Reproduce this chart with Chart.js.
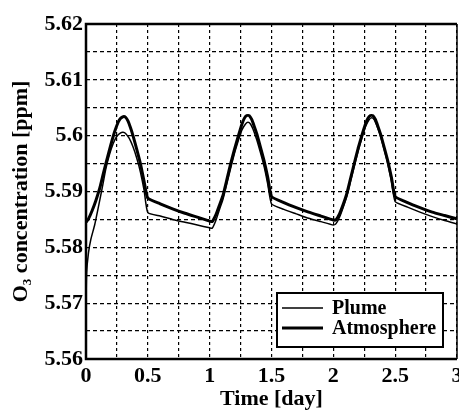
<!DOCTYPE html>
<html>
<head>
<meta charset="utf-8">
<script src="https://cdn.jsdelivr.net/npm/chart.js@4.4.1/dist/chart.umd.min.js"></script>
<style>
html,body{margin:0;padding:0;background:#fff;overflow:hidden;}
#wrap{position:relative;width:459px;height:416px;}
</style>
</head>
<body>
<div id="wrap"><canvas id="c"></canvas></div>
<script>
// ---- data ----
const seriesLabels = ['Plume', 'Atmosphere'];
const xTickLabels = ['0', '0.5', '1', '1.5', '2', '2.5', '3'];
const yTickLabels = ['5.56', '5.57', '5.58', '5.59', '5.6', '5.61', '5.62'];
const xTitle = 'Time [day]';
const yTitle = 'O\u2083 concentration [ppm]';

const plumeTime = [
  0.000, 0.005, 0.020, 0.040, 0.070, 0.100, 0.130, 0.160, 0.190, 0.220, 0.250, 0.280, 0.300, 0.320, 0.350, 0.380, 0.410, 0.440, 0.470, 0.500,
  0.60, 0.70, 0.80, 0.90, 1.00,
  1.02, 1.05, 1.08, 1.11, 1.14, 1.17, 1.20, 1.23, 1.26, 1.29, 1.31, 1.33, 1.35, 1.38, 1.41, 1.44, 1.47, 1.50,
  1.60, 1.70, 1.80, 1.90, 2.00,
  2.02, 2.05, 2.08, 2.11, 2.14, 2.17, 2.20, 2.23, 2.26, 2.29, 2.31, 2.33, 2.35, 2.38, 2.41, 2.44, 2.47, 2.50,
  2.60, 2.70, 2.80, 2.90, 3.00
];
const plumeValues = [
  5.5700, 5.5754, 5.5790, 5.5815, 5.5840, 5.5872, 5.5905, 5.5940, 5.5966, 5.5986, 5.5999, 5.6005, 5.6006, 5.6004, 5.5995, 5.5980, 5.5960, 5.5935, 5.5902, 5.5862,
  5.5856, 5.5850, 5.5845, 5.5840, 5.5835,
  5.5834, 5.5848, 5.5868, 5.5888, 5.5915, 5.5942, 5.5968, 5.5990, 5.6010, 5.6021, 5.6024, 5.6021, 5.6012, 5.5993, 5.5970, 5.5945, 5.5913, 5.5878,
  5.5868, 5.5860, 5.5852, 5.5846, 5.5840,
  5.5842, 5.5854, 5.5872, 5.5892, 5.5919, 5.5946, 5.5972, 5.5995, 5.6016, 5.6029, 5.6032, 5.6029, 5.6019, 5.6000, 5.5976, 5.5950, 5.5918, 5.5882,
  5.5872, 5.5863, 5.5855, 5.5848, 5.5842
];

const atmTime = [
  0.00, 0.02, 0.05, 0.08, 0.11, 0.14, 0.17, 0.20, 0.23, 0.26, 0.28, 0.30, 0.32, 0.34, 0.36, 0.38, 0.41, 0.44, 0.47, 0.50,
  0.60, 0.70, 0.80, 0.90, 1.00,
  1.02, 1.05, 1.08, 1.11, 1.14, 1.17, 1.20, 1.23, 1.26, 1.28, 1.30, 1.32, 1.34, 1.36, 1.38, 1.41, 1.44, 1.47, 1.50,
  1.60, 1.70, 1.80, 1.90, 2.00,
  2.02, 2.05, 2.08, 2.11, 2.14, 2.17, 2.20, 2.23, 2.26, 2.28, 2.30, 2.32, 2.34, 2.36, 2.38, 2.41, 2.44, 2.47, 2.50,
  2.60, 2.70, 2.80, 2.90, 3.00
];
const atmValues = [
  5.5845, 5.5851, 5.5866, 5.5884, 5.5905, 5.5932, 5.5958, 5.5983, 5.6006, 5.6024, 5.6031, 5.6034, 5.6033, 5.6026, 5.6014, 5.6000, 5.5976, 5.5950, 5.5918, 5.5888,
  5.5878, 5.5869, 5.5861, 5.5854, 5.5847,
  5.5846, 5.5858, 5.5876, 5.5895, 5.5922, 5.5950, 5.5975, 5.5998, 5.6020, 5.6031, 5.6036, 5.6036, 5.6029, 5.6017, 5.6004, 5.5980, 5.5955, 5.5925, 5.5891,
  5.5880, 5.5871, 5.5863, 5.5856, 5.5849,
  5.5849, 5.5860, 5.5877, 5.5897, 5.5924, 5.5951, 5.5977, 5.6000, 5.6021, 5.6031, 5.6036, 5.6036, 5.6029, 5.6017, 5.6004, 5.5980, 5.5955, 5.5925, 5.5891,
  5.5880, 5.5871, 5.5863, 5.5857, 5.5851
];

// ---- chart ----
const FONT = "'Liberation Serif', 'Times New Roman', serif";
const toPts = (t, v) => t.map((x, i) => ({x: x, y: v[i]}));

const boxLegend = {
  id: 'boxLegend',
  afterDraw(chart) {
    const ctx = chart.ctx, a = chart.chartArea;
    ctx.save();
    ctx.strokeStyle = '#000';
    ctx.lineWidth = 2.5;
    ctx.beginPath();
    ctx.moveTo(a.right, a.top); ctx.lineTo(a.left, a.top); ctx.lineTo(a.left, a.bottom); ctx.lineTo(a.right, a.bottom);
    ctx.stroke();
    ctx.lineWidth = 1.5;
    ctx.beginPath(); ctx.moveTo(a.right, a.top); ctx.lineTo(a.right, a.bottom); ctx.stroke();
    const bw = 166, bh = 54;
    const bx = a.right - 14 - bw, by = a.bottom - 12 - bh;
    ctx.fillStyle = '#fff';
    ctx.fillRect(bx, by, bw, bh);
    ctx.lineWidth = 2;
    ctx.strokeRect(bx, by, bw, bh);
    ctx.font = 'bold 20px ' + FONT;
    ctx.fillStyle = '#000';
    ctx.textBaseline = 'middle';
    ctx.textAlign = 'left';
    chart.data.datasets.forEach((ds, i) => {
      const y = by + 15 + i * 20;
      ctx.lineWidth = ds.borderWidth;
      ctx.beginPath(); ctx.moveTo(bx + 5, y); ctx.lineTo(bx + 46, y); ctx.stroke();
      ctx.fillText(ds.label, bx + 55, y + 1);
    });
    ctx.restore();
  }
};

new Chart(document.getElementById('c'), {
  type: 'line',
  data: {
    datasets: [
      {label: seriesLabels[0], data: toPts(plumeTime, plumeValues), borderColor: '#000', borderWidth: 1.5,
       pointRadius: 0, tension: 0.15, fill: false, borderJoinStyle: 'round'},
      {label: seriesLabels[1], data: toPts(atmTime, atmValues), borderColor: '#000', borderWidth: 3,
       pointRadius: 0, tension: 0.15, fill: false, borderJoinStyle: 'round'}
    ]
  },
  options: {
    responsive: true,
    maintainAspectRatio: false,
    animation: false,
    layout: {padding: {top: 24, right: 2, left: 0, bottom: 0}},
    plugins: {legend: {display: false}, tooltip: {enabled: false}},
    scales: {
      x: {
        type: 'linear', min: 0, max: 3,
        ticks: {
          stepSize: 0.25, autoSkip: false, maxRotation: 0, padding: 4, color: '#000',
          font: {family: FONT, size: 22, weight: 'bold'},
          callback: (v, i) => (i % 2 === 0 ? xTickLabels[i / 2] : '')
        },
        grid: {color: '#000', lineWidth: 1.2, drawTicks: false},
        border: {display: false, dash: [3, 3]},
        title: {display: true, text: xTitle, color: '#000', padding: {top: 0, bottom: 3},
                font: {family: FONT, size: 22, weight: 'bold'}},
        afterFit(s) { s.height = 57; s.paddingLeft = 0; s.paddingRight = 0; }
      },
      y: {
        type: 'linear', min: 5.56, max: 5.62,
        ticks: {
          stepSize: 0.005, autoSkip: false, padding: 3, color: '#000',
          font: {family: FONT, size: 22, weight: 'bold'},
          callback: (v, i) => (i % 2 === 0 ? yTickLabels[i / 2] : '')
        },
        grid: {color: '#000', lineWidth: 1.2, drawTicks: false},
        border: {display: false, dash: [4, 3]},
        title: {display: true, text: yTitle, color: '#000', padding: {top: 8, bottom: 0},
                font: {family: FONT, size: 22, weight: 'bold'}},
        afterFit(s) { s.width = 86; s.paddingTop = 0; s.paddingBottom = 0; }
      }
    }
  },
  plugins: [boxLegend]
});
</script>
</body>
</html>
